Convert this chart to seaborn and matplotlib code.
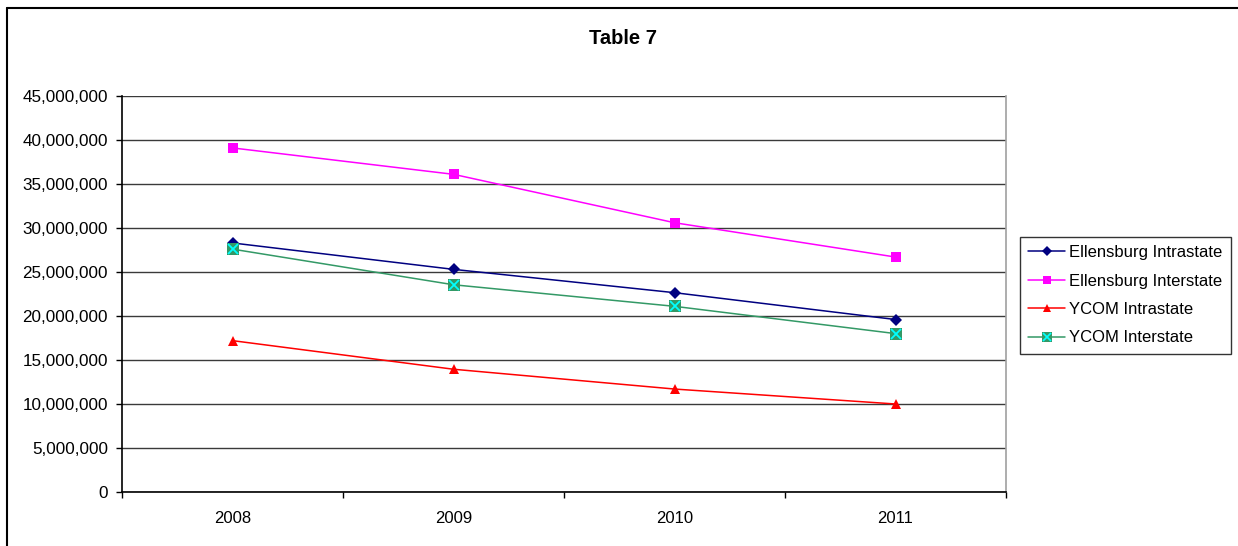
import numpy as np
import pandas as pd
import matplotlib
matplotlib.use("Agg")
import matplotlib.pyplot as plt
from matplotlib.lines import Line2D
from matplotlib.legend_handler import HandlerTuple
from matplotlib.ticker import FuncFormatter, FixedLocator
import seaborn as sns

years = ["2008", "2009", "2010", "2011"]
ellensburg_intrastate = [28_300_000, 25_300_000, 22_650_000, 19_600_000]
ellensburg_interstate = [39_100_000, 36_100_000, 30_600_000, 26_700_000]
ycom_intrastate = [17_200_000, 13_950_000, 11_700_000, 10_000_000]
ycom_interstate = [27_600_000, 23_550_000, 21_100_000, 18_000_000]

series_names = ["Ellensburg Intrastate", "Ellensburg Interstate",
                "YCOM Intrastate", "YCOM Interstate"]
series_values = [ellensburg_intrastate, ellensburg_interstate,
                 ycom_intrastate, ycom_interstate]

rows = []
for name, vals in zip(series_names, series_values):
    for i, (yr, v) in enumerate(zip(years, vals)):
        rows.append({"series": name, "year": yr, "pos": i + 0.5, "value": v})
df = pd.DataFrame(rows)

sns.set_theme(style="white")
plt.rcParams["font.family"] = ["Liberation Sans", "DejaVu Sans"]
plt.rcParams["text.color"] = "black"
plt.rcParams["xtick.color"] = "black"
plt.rcParams["ytick.color"] = "black"

colors = {
    "Ellensburg Intrastate": "#000080",
    "Ellensburg Interstate": "#FF00FF",
    "YCOM Intrastate": "#FF0000",
    "YCOM Interstate": "#339966",
}
markers = {
    "Ellensburg Intrastate": "D",
    "Ellensburg Interstate": "s",
    "YCOM Intrastate": "^",
    "YCOM Interstate": "s",
}
msizes = {
    "Ellensburg Intrastate": 6,
    "Ellensburg Interstate": 6.5,
    "YCOM Intrastate": 7.5,
    "YCOM Interstate": 9,
}

fig = plt.figure(figsize=(12.38, 5.46), dpi=100)
ax = fig.add_axes([122 / 1238, 1 - 492 / 546, (1006 - 122) / 1238, (492 - 96) / 546])

# horizontal gridlines behind the data
ax.set_axisbelow(True)
ax.yaxis.grid(True, color="#3a3a3a", linewidth=1.0)
ax.xaxis.grid(False)

for name in series_names:
    sub = df[df["series"] == name]
    sns.lineplot(data=sub, x="pos", y="value", ax=ax, color=colors[name],
                 linewidth=1.1, marker=markers[name], markersize=msizes[name],
                 markeredgewidth=0, markerfacecolor=colors[name], legend=False)

# cross overlay on the YCOM Interstate markers
ycom_inter = df[df["series"] == "YCOM Interstate"]
ax.plot(ycom_inter["pos"], ycom_inter["value"], linestyle="none", marker="x",
        markersize=7, markeredgewidth=1.3, color="#00FFFF", zorder=5)

ax.set_xlim(0, len(years))
ax.set_ylim(0, 45_000_000)
ax.set_yticks(np.arange(0, 45_000_001, 5_000_000))
ax.yaxis.set_major_formatter(FuncFormatter(lambda v, p: f"{int(v):,}"))

ax.xaxis.set_major_locator(FixedLocator(np.arange(0, len(years) + 1)))
ax.xaxis.set_minor_locator(FixedLocator(np.arange(len(years)) + 0.5))
ax.set_xticklabels([], minor=False)
ax.set_xticklabels(years, minor=True)
ax.tick_params(axis="x", which="major", direction="out", length=4.5, width=1,
               color="black", bottom=True)
ax.tick_params(axis="x", which="minor", length=0, pad=14, labelsize=12,
               labelcolor="black")
ax.tick_params(axis="y", which="major", direction="out", length=4.5, width=1,
               color="black", left=True, pad=5.5, labelsize=12.3,
               labelcolor="black")
ax.set_xlabel("")
ax.set_ylabel("")

for side in ["left", "bottom"]:
    ax.spines[side].set_color("black")
    ax.spines[side].set_linewidth(1.2)
ax.spines["top"].set_visible(False)
ax.spines["right"].set_color("#a0a0a0")
ax.spines["right"].set_linewidth(1.2)

fig.text(623 / 1238, 1 - 38 / 546, "Table 7", ha="center", va="center",
         fontsize=14.5, fontweight="bold", color="black")

# legend
handles = []
for name in series_names:
    ln = Line2D([], [], color=colors[name], linewidth=1.1, marker=markers[name],
                markersize=msizes[name] * 0.85, markeredgewidth=0,
                markerfacecolor=colors[name])
    if name == "YCOM Interstate":
        cross = Line2D([], [], linestyle="none", marker="x", markersize=6,
                       markeredgewidth=1.2, color="#00FFFF")
        handles.append((ln, cross))
    else:
        handles.append(ln)
leg = fig.legend(handles, series_names, loc="upper left",
                 bbox_to_anchor=(1020 / 1238, 1 - 237 / 546),
                 frameon=True, fancybox=False, fontsize=12,
                 handlelength=2.2, handletextpad=0.25, labelspacing=0.8,
                 borderpad=0.5, borderaxespad=0,
                 handler_map={tuple: HandlerTuple(ndivide=1, pad=0)})
leg.get_frame().set_edgecolor("black")
leg.get_frame().set_linewidth(1.0)
for t in leg.get_texts():
    t.set_color("black")

# chart outer border (left and top edges)
fig.add_artist(Line2D([7 / 1238, 7 / 1238], [0, 1 - 8 / 546],
                      transform=fig.transFigure, color="black", linewidth=1.5))
fig.add_artist(Line2D([7 / 1238, 1], [1 - 8 / 546, 1 - 8 / 546],
                      transform=fig.transFigure, color="black", linewidth=1.5))

fig.savefig("out.png", dpi=100)
